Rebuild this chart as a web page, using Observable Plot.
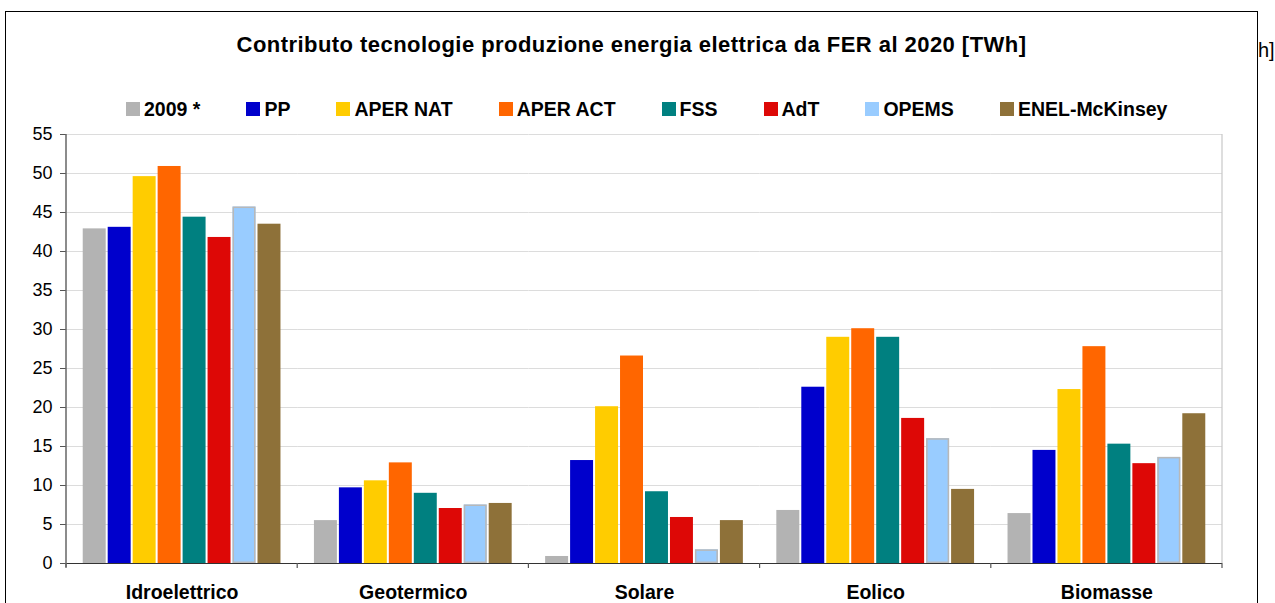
<!DOCTYPE html>
<html>
<head>
<meta charset="utf-8">
<script src="https://cdn.jsdelivr.net/npm/d3@7"></script>
<script src="https://cdn.jsdelivr.net/npm/@observablehq/plot@0.6"></script>
<style>
  html, body { margin: 0; padding: 0; background: #fff; }
  body { width: 1275px; height: 603px; overflow: hidden; position: relative; font-family: Arial, "Liberation Sans", sans-serif; color: #000; }
  #box { position: absolute; left: 5px; top: 11px; width: 1253px; height: 700px; border: 1.5px solid #000; box-sizing: border-box; }
  #title { position: absolute; left: 6px; width: 1251px; top: 33px; text-align: center; font-weight: bold; font-size: 22px; letter-spacing: 0.45px; line-height: 24px; }
  #stray { position: absolute; left: 1258px; top: 38px; font-size: 20px; line-height: 24px; }
  #legend { position: absolute; left: 126px; top: 97px; display: flex; gap: 46px; align-items: center; height: 24px; }
  .item { display: flex; align-items: center; font-weight: bold; font-size: 19.5px; white-space: nowrap; }
  .sw { width: 14px; height: 14px; margin-right: 4px; }
  #chart { position: absolute; left: 0; top: 120px; }
</style>
</head>
<body>
<div id="box"></div>
<div id="title">Contributo tecnologie produzione energia elettrica da FER al 2020 [TWh]</div>
<div id="stray">h]</div>
<div id="legend"></div>
<div id="chart"></div>
<script>
// ---- data ----
const categories = ["Idroelettrico", "Geotermico", "Solare", "Eolico", "Biomasse"];
const series = ["2009 *", "PP", "APER NAT", "APER ACT", "FSS", "AdT", "OPEMS", "ENEL-McKinsey"];
const seriesColors = ["#b3b3b3", "#0000cc", "#ffcc00", "#ff6600", "#008080", "#dd0806", "#99ccff", "#8e7139"];
const v2009    = [42.9, 5.5, 0.9, 6.8, 6.4];
const vPP      = [43.1, 9.7, 13.2, 22.6, 14.5];
const vAperNat = [49.6, 10.6, 20.1, 29.0, 22.3];
const vAperAct = [50.9, 12.9, 26.6, 30.1, 27.8];
const vFSS     = [44.4, 9.0, 9.2, 29.0, 15.3];
const vAdT     = [41.8, 7.05, 5.9, 18.6, 12.8];
const vOPEMS   = [45.7, 7.5, 1.75, 16.0, 13.6];
const vENEL    = [43.5, 7.7, 5.5, 9.5, 19.2];
const yTicks = [0, 5, 10, 15, 20, 25, 30, 35, 40, 45, 50, 55];

const seriesValues = [v2009, vPP, vAperNat, vAperAct, vFSS, vAdT, vOPEMS, vENEL];
const data = [];
categories.forEach((c, ci) => {
  series.forEach((s, si) => data.push({category: c, series: s, value: seriesValues[si][ci]}));
});

// ---- legend (HTML) ----
const legend = document.getElementById("legend");
series.forEach((s, i) => {
  const it = document.createElement("div");
  it.className = "item";
  const sw = document.createElement("div");
  sw.className = "sw";
  sw.style.background = seriesColors[i];
  it.appendChild(sw);
  it.appendChild(document.createTextNode(s));
  legend.appendChild(it);
});

// ---- chart ----
const W = 1275, H = 500;
const plot = Plot.plot({
  width: W,
  height: H,
  marginLeft: 66,
  marginRight: 53,
  marginTop: 14,
  marginBottom: 57,
  style: {fontFamily: "Arial, 'Liberation Sans', sans-serif", color: "#000", background: "transparent", overflow: "visible"},
  fx: {domain: categories, padding: 0, label: null, round: false},
  x: {domain: series, paddingInner: 0.08, paddingOuter: 0.67, round: false, axis: null},
  y: {domain: [0, 55], label: null},
  color: {domain: series, range: seriesColors},
  marks: [
    Plot.gridY(yTicks, {stroke: "#dcdcdc", strokeOpacity: 1, strokeWidth: 1}),
    Plot.barY(data, {fx: "category", x: "series", y: "value", fill: "series"}),
    Plot.barY(data.filter(d => d.series === "OPEMS"), {fx: "category", x: "series", y: "value", fill: "none", stroke: "#b8b8b8", strokeWidth: 1.5, inset: 0.75}),
    Plot.ruleY([0], {stroke: "#333", strokeWidth: 1.2}),
    Plot.axisY(yTicks, {tickSize: 6, tickPadding: 8, fontSize: 18, stroke: "#555", fill: "#000", label: null}),
    Plot.axisFx({anchor: "bottom", tickSize: 0, tickPadding: 22, fontSize: 19.5, fontWeight: "bold", fill: "#000", label: null})
  ]
});
document.getElementById("chart").appendChild(plot);

// decorations derived from the plot's own scales
const fx = plot.scale("fx");
const y = plot.scale("y");
const svg = d3.select(plot);
const y0 = y.apply(0), yTop = y.apply(55);
const starts = categories.map(c => fx.apply(c));
const end = fx.apply(categories[categories.length - 1]) + fx.bandwidth;
const g = svg.append("g");
// plot-area right border
g.append("line").attr("x1", end).attr("x2", end).attr("y1", yTop).attr("y2", y0)
  .attr("stroke", "#c8c8c8").attr("stroke-width", 1.2);
// category boundary ticks
[...starts, end].forEach(x => {
  g.append("line").attr("x1", x).attr("x2", x).attr("y1", y0).attr("y2", y0 + 5)
    .attr("stroke", "#555").attr("stroke-width", 1.2);
});
// y axis line
g.append("line").attr("x1", starts[0]).attr("x2", starts[0]).attr("y1", yTop).attr("y2", y0 + 4)
  .attr("stroke", "#666").attr("stroke-width", 1.5);
</script>
</body>
</html>
